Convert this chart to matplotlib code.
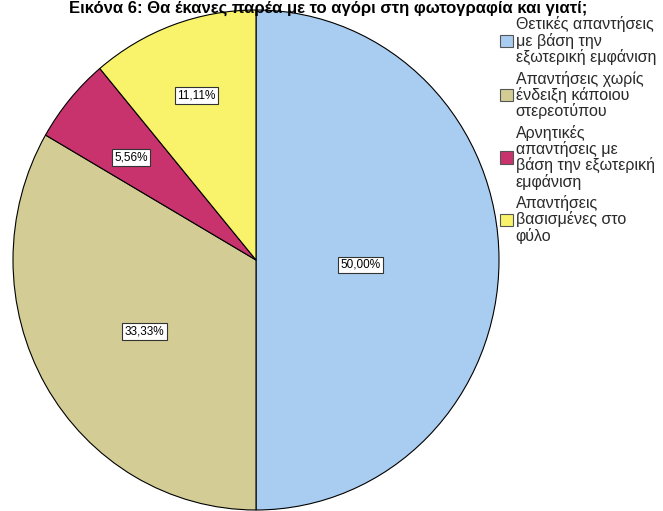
import numpy as np
import matplotlib.pyplot as plt

plt.rcParams['font.family'] = ['Liberation Sans', 'DejaVu Sans']

title = "Εικόνα 6: Θα έκανες παρέα με το αγόρι στη φωτογραφία και γιατί;"
labels = [
    "Θετικές απαντήσεις\nμε βάση την\nεξωτερική εμφάνιση",
    "Απαντήσεις χωρίς\nένδειξη κάποιου\nστερεοτύπου",
    "Αρνητικές\nαπαντήσεις με\nβάση την εξωτερική\nεμφάνιση",
    "Απαντήσεις\nβασισμένες στο\nφύλο",
]
values = [50.00, 33.33, 5.56, 11.11]
colors = ['#a9cdf0', '#d3cd95', '#c8336e', '#f8f36a']
# how far out each percentage box sits (fraction of radius)
label_r = [0.43, 0.53, 0.67, 0.72]

fig = plt.figure(figsize=(6.63, 5.11), dpi=100)
ax = fig.add_axes([13 / 663, 1 / 511, 486 / 663, 500 / 511])

wedges, texts = ax.pie(values, colors=colors, startangle=90, counterclock=False,
                       wedgeprops=dict(edgecolor='black', linewidth=0.8))
ax.set_aspect('auto')
ax.set_xlim(-1, 1)
ax.set_ylim(-1, 1)
ax.axis('off')

for w, v, r in zip(wedges, values, label_r):
    mid = np.deg2rad((w.theta1 + w.theta2) / 2)
    ax.text(r * np.cos(mid), r * np.sin(mid) - 0.02, f"{v:.2f}%".replace('.', ','),
            ha='center', va='center', fontsize=8.5,
            bbox=dict(boxstyle='square,pad=0.2', facecolor='white',
                      edgecolor='#333333', linewidth=0.8))

fig.text(0.495, 0.999, title, ha='center', va='top', fontsize=12,
         fontweight='bold')

leg = fig.legend(wedges, labels, loc='upper left', bbox_to_anchor=(494 / 663, 1 - 10 / 511),
                 frameon=False, fontsize=11.5, handlelength=0.8, handleheight=0.8,
                 handletextpad=0.15, labelspacing=0.35, borderaxespad=0)
for t in leg.get_texts():
    t.set_color('#2a2a2a')
    t.set_linespacing(1.02)
for h in leg.legend_handles:
    h.set_edgecolor('#555555')

fig.savefig('out.png', dpi=100)
